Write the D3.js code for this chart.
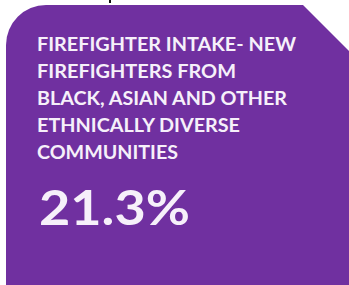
<!DOCTYPE html>
<html>
<head>
<meta charset="utf-8">
<script src="https://cdn.jsdelivr.net/npm/d3@7"></script>
<style>
  html, body { margin: 0; padding: 0; background: #fff; }
  svg { display: block; }
</style>
</head>
<body>
<svg id="card"></svg>
<script>
// data
const titleLines = [
    "FIREFIGHTER  INTAKE-  NEW",
    "FIREFIGHTERS  FROM",
    "BLACK, ASIAN AND OTHER",
    "ETHNICALLY DIVERSE",
    "COMMUNITIES"
];
const lineWidths = [259, 199, 250, 203, 141];
const headlineValue = [21.3];

const W = 349, H = 285;
const purple = "#7030a0";
const textCol = "#f6f0fa";

const svg = d3.select("#card")
    .attr("width", W)
    .attr("height", H);

// card outline: rounded top-left, clipped top-right
const cardLeft = 6, cardTop = 5, cornerR = 40, cut = 46;
const p = d3.path();
p.moveTo(cardLeft, H);
p.lineTo(cardLeft, cardTop + cornerR);
p.arcTo(cardLeft, cardTop, cardLeft + cornerR, cardTop, cornerR);
p.lineTo(W - cut, cardTop);
p.lineTo(W, cardTop + cut);
p.lineTo(W, H);
p.closePath();

svg.append("path")
    .attr("d", p.toString())
    .attr("fill", purple);

// stray tick at the top edge
svg.append("rect")
    .attr("x", 109).attr("y", 0)
    .attr("width", 2).attr("height", 3)
    .attr("fill", "#111");

// title lines
const yLine = d3.scaleLinear()
    .domain([0, titleLines.length - 1])
    .range([51, 159]);

svg.append("g")
    .selectAll("text")
    .data(titleLines)
    .join("text")
    .attr("x", 37)
    .attr("y", (d, i) => yLine(i))
    .attr("fill", textCol)
    .style("font-family", "Lato, 'Open Sans', sans-serif")
    .style("font-weight", 700)
    .style("font-size", "18.5px")
    .attr("textLength", (d, i) => lineWidths[i])
    .attr("lengthAdjust", "spacingAndGlyphs")
    .text(d => d);

// big value
const fmt = d3.format(".1f");
svg.append("g")
    .selectAll("text")
    .data(headlineValue)
    .join("text")
    .attr("x", 39)
    .attr("y", 225)
    .attr("fill", textCol)
    .style("font-family", "Lato, 'Open Sans', sans-serif")
    .style("font-weight", 700)
    .style("font-size", "47px")
    .attr("textLength", 151)
    .attr("lengthAdjust", "spacingAndGlyphs")
    .text(d => fmt(d) + "%");
</script>
</body>
</html>
